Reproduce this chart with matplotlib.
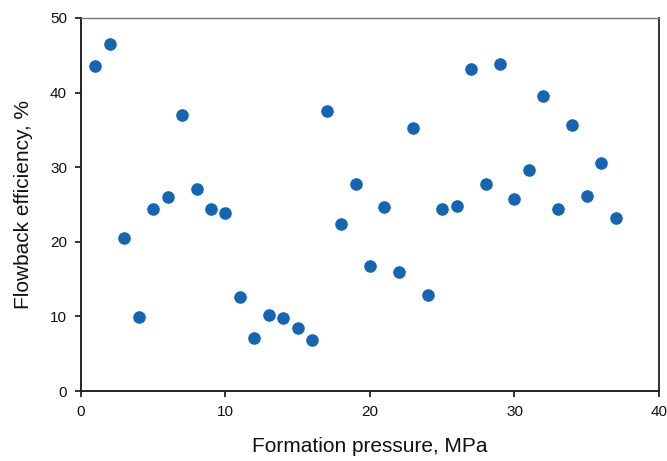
import numpy as np
import matplotlib
matplotlib.use("Agg")
import matplotlib.pyplot as plt

plt.rcParams['font.family'] = ['Liberation Sans', 'DejaVu Sans']

# formation pressure (MPa) and flowback efficiency (%)
pressure = [1, 2, 3, 4, 5, 6, 7, 8, 9, 10, 11, 12, 13, 14, 15, 16, 17, 18, 19,
            20, 21, 22, 23, 24, 25, 26, 27, 28, 29, 30, 31, 32, 33, 34, 35, 36, 37]
efficiency = [43.6, 46.5, 20.5, 9.9, 24.4, 26.0, 37.0, 27.1, 24.4, 23.9, 12.6,
              7.1, 10.2, 9.8, 8.4, 6.9, 37.5, 22.4, 27.8, 16.7, 24.7, 16.0,
              35.3, 12.9, 24.4, 24.8, 43.1, 27.8, 43.8, 25.7, 29.6, 39.5, 24.4,
              35.6, 26.2, 30.5, 23.2]

x_ticks = [0, 10, 20, 30, 40]
y_ticks = [0, 10, 20, 30, 40, 50]

fig = plt.figure(figsize=(6.67, 4.61), dpi=100)
ax = fig.add_axes([0.1214, 0.1518, 0.8666, 0.8092])

ax.scatter(pressure, efficiency, s=90, color='#1565b3', edgecolors='white',
           linewidths=0.4, zorder=3, clip_on=False)

ax.set_xlim(0, 40)
ax.set_ylim(0, 50)
ax.set_xticks(x_ticks)
ax.set_yticks(y_ticks)
ax.tick_params(direction='out', length=4, width=1.2, labelsize=11,
               colors='#111111', pad=6)

for side in ['left', 'bottom']:
    ax.spines[side].set_linewidth(1.4)
    ax.spines[side].set_color('#222222')
ax.spines['right'].set_linewidth(1.4)
ax.spines['right'].set_color('#333333')
ax.spines['top'].set_linewidth(1.0)
ax.spines['top'].set_color('#777777')

ax.set_xlabel('Formation pressure, MPa', fontsize=15, labelpad=13, color='#111111')
ax.set_ylabel('Flowback efficiency, %', fontsize=15, labelpad=12, color='#111111')

fig.savefig('out.png', dpi=100)
